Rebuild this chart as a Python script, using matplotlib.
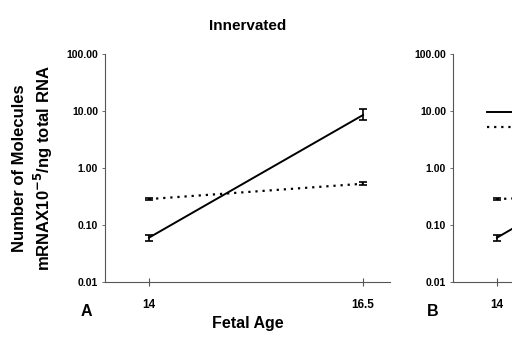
import matplotlib
matplotlib.use("Agg")
import matplotlib.pyplot as plt
from matplotlib.ticker import FixedLocator, FixedFormatter, NullLocator

plt.rcParams['font.family'] = ['Liberation Sans', 'DejaVu Sans']
plt.rcParams['font.weight'] = 'bold'

ages = [14, 16.5]
xtick_labels = ["14", "16.5"]
yticks = [0.01, 0.1, 1, 10, 100]
ytick_labels = ["0.01", "0.10", "1.00", "10.00", "100.00"]

# Panel A (Innervated)
a_solid = [0.06, 8.5]
a_solid_lo = [0.053, 6.9]
a_solid_hi = [0.067, 10.8]
a_dot = [0.285, 0.53]
a_dot_lo = [0.27, 0.50]
a_dot_hi = [0.30, 0.56]

# Panel B (cropped at right edge)
b_solid = [0.06, 9.0]
b_solid_lo = [0.053, 7.5]
b_solid_hi = [0.067, 10.5]
b_dot = [0.285, 0.40]
b_dot_lo = [0.27, 0.37]
b_dot_hi = [0.30, 0.43]

series_labels = ["Series 1", "Series 2"]

fig = plt.figure(figsize=(5.12, 3.47), dpi=100)
axA = fig.add_axes([105/512, 1-282/347, 285/512, 228/347])
axB = fig.add_axes([453/512, 1-282/347, 285/512, 228/347])

def draw(ax, s, slo, shi, d, dlo, dhi):
    serr = [[v - l for v, l in zip(s, slo)], [h - v for v, h in zip(s, shi)]]
    derr = [[v - l for v, l in zip(d, dlo)], [h - v for v, h in zip(d, dhi)]]
    l1 = ax.errorbar(ages, s, yerr=serr, color='black', lw=1.4, capsize=3,
                     elinewidth=1.2, capthick=1.2, label=series_labels[0])
    l2 = ax.errorbar(ages, d, yerr=derr, color='black', lw=1.6, ls=(0, (1, 2.2)),
                     capsize=3, elinewidth=1.2, capthick=1.2, label=series_labels[1])
    ax.set_yscale('log')
    ax.set_ylim(0.01, 100)
    ax.set_xlim(13.486, 16.815)
    ax.yaxis.set_major_locator(FixedLocator(yticks))
    ax.yaxis.set_major_formatter(FixedFormatter(ytick_labels))
    ax.yaxis.set_minor_locator(NullLocator())
    ax.set_xticks(ages)
    ax.set_xticklabels(xtick_labels)
    for sp in ['top', 'right']:
        ax.spines[sp].set_visible(False)
    for sp in ['left', 'bottom']:
        ax.spines[sp].set_color('#555555')
        ax.spines[sp].set_linewidth(0.8)
    ax.tick_params(axis='y', length=2, width=0.6, labelsize=7.5, pad=3, color='#555555')
    ax.tick_params(axis='x', length=6, width=0.8, labelsize=8.5, pad=9, direction='inout', color='#555555')
    for t in ax.get_xticklabels() + ax.get_yticklabels():
        t.set_fontweight('bold')
    return l1, l2

draw(axA, a_solid, a_solid_lo, a_solid_hi, a_dot, a_dot_lo, a_dot_hi)
h1, h2 = draw(axB, b_solid, b_solid_lo, b_solid_hi, b_dot, b_dot_lo, b_dot_hi)

axB.legend(handles=[h1[0], h2[0]], labels=series_labels, loc='upper left',
           bbox_to_anchor=(0.12, 0.765), frameon=False, fontsize=8,
           handlelength=4, borderpad=0, borderaxespad=0, labelspacing=0.5)

axA.set_title("Innervated", fontsize=11, fontweight='bold', pad=17)
axA.set_ylabel("Number of Molecules\nmRNAX10$^{\\mathbf{-5}}$/ng total RNA",
               fontsize=12, fontweight='bold', labelpad=8, linespacing=1.3)
axA.set_xlabel("Fetal Age", fontsize=11.5, fontweight='bold', labelpad=4)

fig.text(86/512, 1-312/347, "A", fontsize=11.5, fontweight='bold', ha='center', va='center')
fig.text(433/512, 1-311/347, "B", fontsize=11.5, fontweight='bold', ha='center', va='center')

fig.savefig("out.png", dpi=100)
